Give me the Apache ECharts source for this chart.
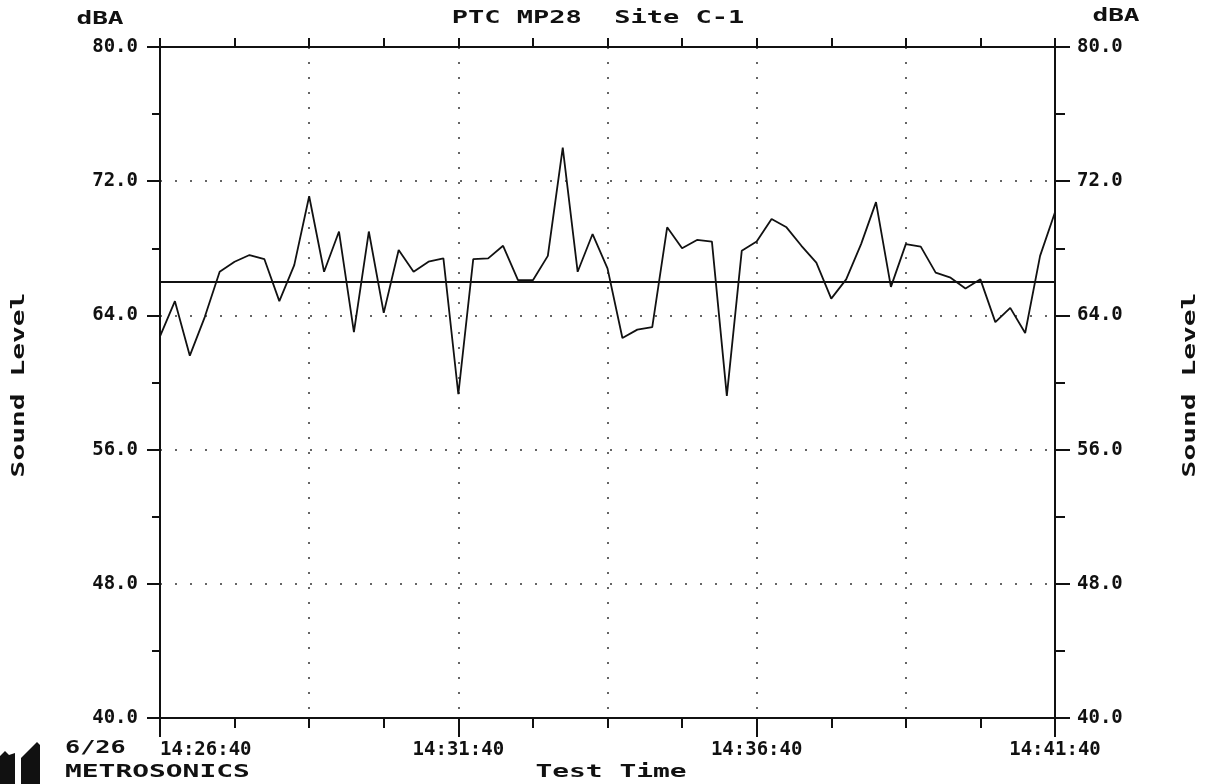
<!DOCTYPE html>
<html>
<head>
<meta charset="utf-8">
<script src="https://cdn.jsdelivr.net/npm/echarts@6/dist/echarts.min.js"></script>
<style>html,body{margin:0;padding:0;background:#fff;}#c{width:1205px;height:784px;}</style>
</head>
<body>
<div id="c"></div>
<script>
// elapsed seconds from 14:26:40
var elapsedSeconds = [0,15,30,45,60,75,90,105,120,135,150,165,180,195,210,225,240,255,270,285,
  300,315,330,345,360,375,390,405,420,435,450,465,480,495,510,525,540,555,570,585,
  600,615,630,645,660,675,690,705,720,735,750,765,780,795,810,825,840,855,870,885,900];
// sound level, dBA
var soundLevel = [62.75,64.85,61.6,63.9,66.6,67.2,67.6,67.35,64.85,67.0,
  71.1,66.6,69.0,63.0,69.0,64.15,67.9,66.6,67.2,67.4,
  59.3,67.35,67.4,68.15,66.1,66.1,67.55,74.0,66.6,68.85,
  66.8,62.65,63.15,63.3,69.25,68.0,68.5,68.4,59.2,67.85,
  68.4,69.75,69.25,68.15,67.15,65.0,66.15,68.25,70.75,65.7,
  68.25,68.1,66.55,66.25,65.6,66.15,63.6,64.45,62.95,67.55,70.15];
var averageLevel = 66.0;
var startTime = [14, 26, 40];
var dateLabel = '6/26';
var titleText = 'PTC MP28  Site C-1';

var FONT = 'DejaVu Sans Mono';
function timeLabel(sec) {
  var total = startTime[0]*3600 + startTime[1]*60 + startTime[2] + sec;
  var h = Math.floor(total/3600), m = Math.floor((total%3600)/60), s = total%60;
  function p(n){return (n<10?'0':'')+n;}
  return h + ':' + p(m) + ':' + p(s);
}
var pts = elapsedSeconds.map(function(t,i){return [t, soundLevel[i]];});
var dotted = {show:true, lineStyle:{color:'#666', width:2, type:[2,13]}};
var lbl = {fontFamily:FONT, fontWeight:'bold', fontSize:19, color:'#111'};
var blackLine = {show:true, onZero:false, lineStyle:{color:'#111', width:2}};
var noLine = {show:false, onZero:false};

var chart = echarts.init(document.getElementById('c'), null, {renderer:'canvas'});
function gtext(x, y, text, align, vAlign, sx, rot) {
  return {type:'text', x:x, y:y, rotation:rot||0, scaleX:sx, silent:true,
    style:{text:text, font:'bold 18px "' + FONT + '"', fill:'#111', textAlign:align, textVerticalAlign:vAlign}};
}
chart.setOption({
  animation:false,
  backgroundColor:'#fff',
  grid:{left:160, right:150, top:47, bottom:66, containLabel:false},
  xAxis:[
    {type:'value', position:'bottom', min:0, max:900, interval:300,
     axisLine:blackLine,
     axisTick:{show:true, inside:false, length:19, lineStyle:{color:'#111', width:2}},
     axisLabel:Object.assign({show:true, margin:23, formatter:timeLabel, alignMinLabel:'left'}, lbl),
     splitLine:{show:false}},
    {type:'value', position:'bottom', min:0, max:900, interval:75,
     axisLine:noLine, axisTick:{show:true, inside:false, length:10, lineStyle:{color:'#111', width:2}},
     axisLabel:{show:false}, splitLine:{show:false}},
    {type:'value', position:'bottom', min:0, max:900, interval:150,
     axisLine:noLine, axisTick:{show:false}, axisLabel:{show:false}, splitLine:dotted},
    {type:'value', position:'top', min:0, max:900, interval:75,
     axisLine:blackLine,
     axisTick:{show:true, inside:false, length:9, lineStyle:{color:'#111', width:2}},
     axisLabel:{show:false}, splitLine:{show:false}}
  ],
  yAxis:[
    {type:'value', position:'left', min:40, max:80, interval:8,
     axisLine:blackLine,
     axisTick:{show:true, inside:false, length:13, lineStyle:{color:'#111', width:2}},
     axisLabel:Object.assign({show:true, margin:22, formatter:function(v){return v.toFixed(1);}}, lbl),
     splitLine:dotted},
    {type:'value', position:'left', min:40, max:80, interval:4,
     axisLine:noLine, axisTick:{show:true, inside:false, length:8, lineStyle:{color:'#111', width:2}},
     axisLabel:{show:false}, splitLine:{show:false}},
    {type:'value', position:'right', min:40, max:80, interval:8,
     axisLine:blackLine,
     axisTick:{show:true, inside:false, length:15, lineStyle:{color:'#111', width:2}},
     axisLabel:Object.assign({show:true, margin:22, formatter:function(v){return v.toFixed(1);}}, lbl),
     splitLine:{show:false}},
    {type:'value', position:'right', min:40, max:80, interval:4,
     axisLine:noLine, axisTick:{show:true, inside:false, length:10, lineStyle:{color:'#111', width:2}},
     axisLabel:{show:false}, splitLine:{show:false}}
  ],
  series:[{
    type:'line', xAxisIndex:0, yAxisIndex:0, data:pts, showSymbol:false, symbol:'none',
    lineStyle:{color:'#111', width:1.8}, z:5,
    markLine:{silent:true, symbol:'none', label:{show:false},
      lineStyle:{color:'#111', width:2, type:'solid'}, data:[{yAxis:averageLevel}]}
  }],
  graphic:[
    gtext(598, 18, titleText, 'center', 'middle', 1.5),
    gtext(100, 19, 'dBA', 'center', 'middle', 1.45),
    gtext(1116, 16, 'dBA', 'center', 'middle', 1.45),
    gtext(65, 748, dateLabel, 'left', 'middle', 1.4),
    gtext(65, 772, 'METROSONICS', 'left', 'middle', 1.55),
    gtext(611, 772, 'Test Time', 'center', 'middle', 1.55),
    gtext(19, 385, 'Sound Level', 'center', 'middle', 1.55, Math.PI/2),
    gtext(1190, 385, 'Sound Level', 'center', 'middle', 1.55, Math.PI/2),
    {type:'polygon', silent:true, shape:{points:[[0,756],[5,751],[9,755],[15,753],[15,784],[0,784]]}, style:{fill:'#111'}},
    {type:'polygon', silent:true, shape:{points:[[21,758],[37,742],[40,745],[40,784],[21,784]]}, style:{fill:'#111'}}
  ]
});
</script>
</body>
</html>
